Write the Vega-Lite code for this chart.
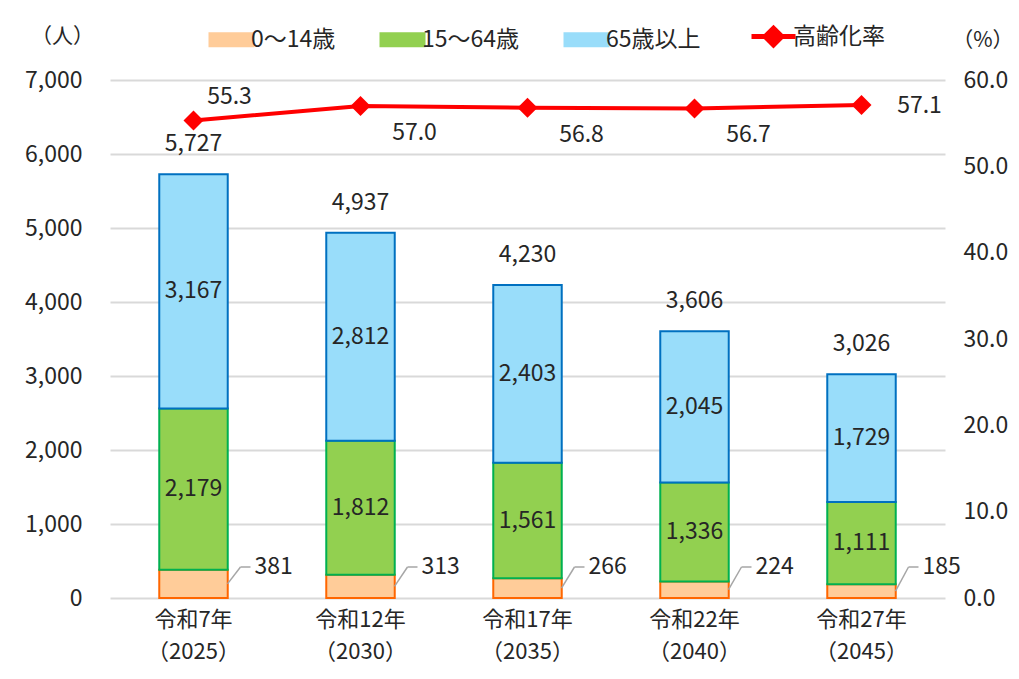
{
  "$schema": "https://vega.github.io/schema/vega-lite/v6.json",
  "width": 835,
  "height": 518,
  "autosize": {"type": "none"},
  "padding": {"left": 110, "top": 80, "right": 74, "bottom": 81},
  "background": "white",
  "config": {
    "font": "Noto Sans CJK JP",
    "view": {"stroke": null},
    "text": {"font": "Noto Sans CJK JP", "fontSize": 22, "color": "#262626"},
    "axis": {"labelFont": "Noto Sans CJK JP", "titleFont": "Noto Sans CJK JP", "labelColor": "#262626", "titleColor": "#262626", "titleFontWeight": "normal"},
    "legend": {"labelFont": "Noto Sans CJK JP", "labelColor": "#262626"}
  },
  "datasets": {
    "pop": [
      {"year": "令和7年|（2025）", "group": "0〜14歳", "value": 381},
      {"year": "令和7年|（2025）", "group": "15〜64歳", "value": 2179},
      {"year": "令和7年|（2025）", "group": "65歳以上", "value": 3167},
      {"year": "令和12年|（2030）", "group": "0〜14歳", "value": 313},
      {"year": "令和12年|（2030）", "group": "15〜64歳", "value": 1812},
      {"year": "令和12年|（2030）", "group": "65歳以上", "value": 2812},
      {"year": "令和17年|（2035）", "group": "0〜14歳", "value": 266},
      {"year": "令和17年|（2035）", "group": "15〜64歳", "value": 1561},
      {"year": "令和17年|（2035）", "group": "65歳以上", "value": 2403},
      {"year": "令和22年|（2040）", "group": "0〜14歳", "value": 224},
      {"year": "令和22年|（2040）", "group": "15〜64歳", "value": 1336},
      {"year": "令和22年|（2040）", "group": "65歳以上", "value": 2045},
      {"year": "令和27年|（2045）", "group": "0〜14歳", "value": 185},
      {"year": "令和27年|（2045）", "group": "15〜64歳", "value": 1111},
      {"year": "令和27年|（2045）", "group": "65歳以上", "value": 1729}
    ],
    "yr": [
      {"year": "令和7年|（2025）", "total": 5727, "rate": 55.3},
      {"year": "令和12年|（2030）", "total": 4937, "rate": 57.0},
      {"year": "令和17年|（2035）", "total": 4230, "rate": 56.8},
      {"year": "令和22年|（2040）", "total": 3606, "rate": 56.7},
      {"year": "令和27年|（2045）", "total": 3026, "rate": 57.1}
    ]
  },
  "layer": [
    {
      "layer": [
        {
          "data": {"name": "pop"},
          "transform": [
            {"stack": "value", "groupby": ["year"], "sort": [{"field": "group", "order": "ascending"}], "as": ["v0", "v1"]},
            {"calculate": "(datum.v0 + datum.v1) / 2", "as": "mid"}
          ],
          "layer": [
            {
              "mark": {"type": "bar", "strokeWidth": 2},
              "encoding": {
                "x": {
                  "field": "year", "type": "nominal", "sort": null,
                  "scale": {"paddingInner": 0.59, "paddingOuter": 0.295},
                  "axis": {"title": null, "labelAngle": 0, "ticks": false, "domain": false, "labelExpr": "split(datum.label, '|')", "labelFontSize": 22, "labelLineHeight": 32, "labelPadding": 11, "labelBaseline": "top"}
                },
                "y": {
                  "field": "v1", "type": "quantitative",
                  "scale": {"domain": [0, 7000]},
                  "axis": {"title": "（人）", "values": [0, 1000, 2000, 3000, 4000, 5000, 6000, 7000], "labelExpr": "format(datum.value, ',')", "labelFontSize": 23, "labelPadding": 28, "ticks": false, "domain": false, "gridColor": "#D9D9D9", "gridWidth": 2, "titleAngle": 0, "titleX": -48, "titleY": -44, "titleAlign": "center", "titleBaseline": "middle", "titleFontSize": 21}
                },
                "y2": {"field": "v0"},
                "color": {
                  "field": "group", "type": "nominal",
                  "scale": {"domain": ["0〜14歳", "15〜64歳", "65歳以上", "高齢化率"], "range": ["#FFCC99", "#92D050", "#99DDFA", "#FF0000"]},
                  "legend": {
                    "title": null, "orient": "none", "direction": "horizontal", "legendX": 110, "legendY": -55,
                    "symbolSize": 1936, "labelFontSize": 23, "labelOffset": 8, "columnPadding": 40, "padding": 0,
                    "encode": {
                      "symbols": {
                        "update": {
                          "shape": {"signal": "datum.value === '高齢化率' ? 'M-1,0H1M-0.38,0L0,-0.38L0.38,0L0,0.38Z' : 'M-1,-0.3H1V0.3H-1Z'"},
                          "fill": {"signal": "datum.value === '0〜14歳' ? '#FFCC99' : datum.value === '15〜64歳' ? '#92D050' : datum.value === '65歳以上' ? '#99DDFA' : '#FF0000'"},
                          "stroke": {"signal": "datum.value === '0〜14歳' ? '#FF6600' : datum.value === '15〜64歳' ? '#00B050' : datum.value === '65歳以上' ? '#0070C0' : '#FF0000'"},
                          "strokeWidth": {"signal": "datum.value === '高齢化率' ? 5 : 2"},
                          "opacity": {"value": 1},
                          "fillOpacity": {"value": 1}
                        }
                      }
                    }
                  }
                },
                "stroke": {
                  "field": "group", "type": "nominal",
                  "scale": {"domain": ["0〜14歳", "15〜64歳", "65歳以上"], "range": ["#FF6600", "#00B050", "#0070C0"]},
                  "legend": null
                }
              }
            },
            {
              "transform": [{"filter": "datum.group !== '0〜14歳'"}],
              "mark": {"type": "text", "baseline": "middle", "fontSize": 23},
              "encoding": {
                "x": {"field": "year", "type": "nominal", "sort": null},
                "y": {"field": "mid", "type": "quantitative"},
                "text": {"field": "value", "type": "quantitative", "format": ","}
              }
            },
            {
              "transform": [{"filter": "datum.group === '0〜14歳'"}],
              "mark": {"type": "rule", "color": "#A6A6A6", "strokeWidth": 1.5, "xOffset": 34, "x2Offset": 47, "y2Offset": -31},
              "encoding": {
                "x": {"field": "year", "type": "nominal", "sort": null},
                "x2": {"field": "year"},
                "y": {"field": "mid", "type": "quantitative"},
                "y2": {"datum": 0}
              }
            },
            {
              "transform": [{"filter": "datum.group === '0〜14歳'"}],
              "mark": {"type": "rule", "color": "#A6A6A6", "strokeWidth": 1.5, "xOffset": 47, "x2Offset": 57, "yOffset": -31},
              "encoding": {
                "x": {"field": "year", "type": "nominal", "sort": null},
                "x2": {"field": "year"},
                "y": {"datum": 0, "type": "quantitative"}
              }
            },
            {
              "transform": [{"filter": "datum.group === '0〜14歳'"}],
              "mark": {"type": "text", "align": "left", "baseline": "middle", "dx": 61, "dy": -31, "fontSize": 23},
              "encoding": {
                "x": {"field": "year", "type": "nominal", "sort": null},
                "y": {"datum": 0, "type": "quantitative"},
                "text": {"field": "value", "type": "quantitative", "format": ","}
              }
            }
          ]
        },
        {
          "data": {"name": "yr"},
          "mark": {"type": "text", "baseline": "middle", "dy": -30, "fontSize": 23},
          "encoding": {
            "x": {"field": "year", "type": "nominal", "sort": null},
            "y": {"field": "total", "type": "quantitative"},
            "text": {"field": "total", "type": "quantitative", "format": ","}
          }
        }
      ]
    },
    {
      "data": {"name": "yr"},
      "encoding": {
        "x": {"field": "year", "type": "nominal", "sort": null},
        "y": {
          "field": "rate", "type": "quantitative",
          "scale": {"domain": [0, 60]},
          "axis": {"orient": "right", "title": "（%）", "values": [0, 10, 20, 30, 40, 50, 60], "labelExpr": "format(datum.value, '.1f')", "grid": false, "ticks": false, "domain": false, "labelFontSize": 23, "labelPadding": 18, "titleAngle": 0, "titleX": 68, "titleY": -40, "titleAlign": "right", "titleBaseline": "middle", "titleFontSize": 21}
        }
      },
      "layer": [
        {"mark": {"type": "line", "strokeWidth": 4}, "encoding": {"color": {"datum": "高齢化率"}}},
        {"mark": {"type": "point", "shape": "diamond", "filled": true, "size": 400, "opacity": 1}, "encoding": {"color": {"datum": "高齢化率"}}},
        {
          "transform": [{"filter": "datum.year === '令和7年|（2025）'"}],
          "mark": {"type": "text", "baseline": "middle", "dx": 36, "dy": -24, "fontSize": 23},
          "encoding": {"text": {"field": "rate", "type": "quantitative", "format": ".1f"}}
        },
        {
          "transform": [{"filter": "datum.year !== '令和7年|（2025）' && datum.year !== '令和27年|（2045）'"}],
          "mark": {"type": "text", "baseline": "middle", "dx": 54, "dy": 27, "fontSize": 23},
          "encoding": {"text": {"field": "rate", "type": "quantitative", "format": ".1f"}}
        },
        {
          "transform": [{"filter": "datum.year === '令和27年|（2045）'"}],
          "mark": {"type": "text", "baseline": "middle", "dx": 58, "dy": 1, "fontSize": 23},
          "encoding": {"text": {"field": "rate", "type": "quantitative", "format": ".1f"}}
        }
      ]
    }
  ],
  "resolve": {"scale": {"y": "independent"}}
}
